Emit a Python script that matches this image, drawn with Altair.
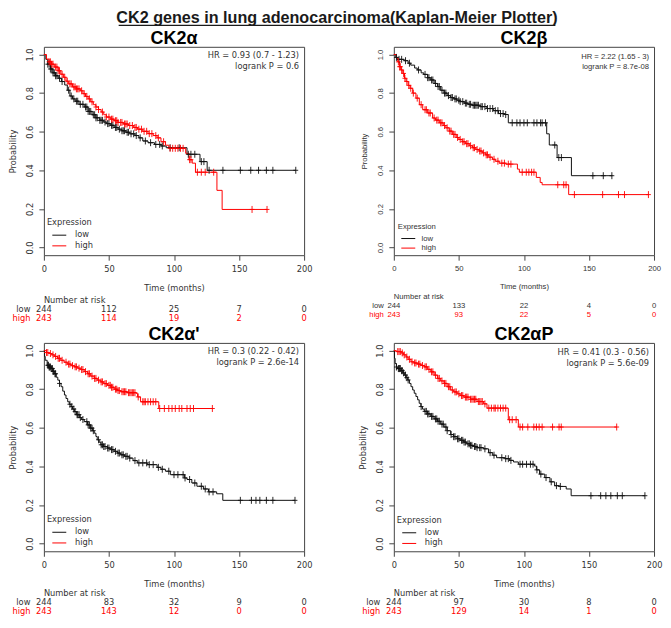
import altair as alt
import pandas as pd

# ---------------- text content ----------------
MAIN_TITLE = "CK2 genes in lung adenocarcinoma(Kaplan-Meier Plotter)"
PANEL_TITLES = ["CK2\u03b1", "CK2\u03b2", "CK2\u03b1'", "CK2\u03b1P"]
HR_LINE1 = ["HR = 0.93 (0.7 - 1.23)", "HR = 2.22 (1.65 - 3)", "HR = 0.3 (0.22 - 0.42)", "HR = 0.41 (0.3 - 0.56)"]
HR_LINE2 = ["logrank P = 0.6", "logrank P = 8.7e-08", "logrank P = 2.6e-14", "logrank P = 5.6e-09"]
GROUPS = ["low", "high"]
X_TICKS = [0, 50, 100, 150, 200]
Y_TICKS = [0.0, 0.2, 0.4, 0.6, 0.8, 1.0]

# ---------------- number at risk ----------------
RISK_TIMES = [0, 50, 100, 150, 200]
RISK_LOW = [[244, 112, 25, 7, 0], [244, 133, 22, 4, 0], [244, 83, 32, 9, 0], [244, 97, 30, 8, 0]]
RISK_HIGH = [[243, 114, 19, 2, 0], [243, 93, 22, 5, 0], [243, 143, 12, 0, 0], [243, 129, 14, 1, 0]]

# ---------------- KM curves (time in months, survival) ----------------
# Panel 1: CK2a
P1_LOW_T = [0, 1.5, 3, 5, 7, 9, 11, 13.5, 16, 18, 20, 22, 24, 27, 31, 34, 37, 40, 43, 46, 48, 51, 54, 57, 60, 63, 66, 70, 73, 76, 80, 85, 90, 94, 110, 120, 125.5, 193.6]
P1_LOW_S = [1.0, 0.975, 0.95, 0.925, 0.905, 0.89, 0.877, 0.86, 0.842, 0.815, 0.785, 0.77, 0.758, 0.742, 0.728, 0.705, 0.688, 0.672, 0.659, 0.65, 0.642, 0.633, 0.622, 0.613, 0.605, 0.597, 0.589, 0.58, 0.568, 0.552, 0.543, 0.534, 0.526, 0.517, 0.483, 0.445, 0.40, 0.40]
P1_LOW_C = [3, 4, 5, 6, 7, 8, 9, 10, 12, 14, 19, 21, 23, 25, 26, 28, 30, 32, 33, 34, 35, 36, 38, 39, 40, 41, 43, 44, 45, 47, 49, 50, 52, 53, 55, 56, 58, 60, 61, 62, 64, 65, 67, 69, 71, 74, 78, 82, 86, 89, 91, 97, 104, 111, 113, 116, 121, 123, 127, 137.6, 151, 159, 165, 171, 176, 193.6]
P1_HIGH_T = [0, 2, 4, 6, 8, 11, 13, 15, 17, 19, 22, 25, 28, 30, 32, 34, 36, 38, 40, 42, 44, 46, 48, 51, 54, 57, 61, 65, 69, 72, 76, 80, 84, 87, 90, 93.5, 96, 109, 111.5, 114, 116.5, 133, 137, 171.5]
P1_HIGH_S = [1.0, 0.976, 0.962, 0.95, 0.935, 0.916, 0.898, 0.882, 0.862, 0.848, 0.832, 0.822, 0.812, 0.797, 0.783, 0.77, 0.755, 0.74, 0.728, 0.715, 0.702, 0.688, 0.676, 0.665, 0.657, 0.648, 0.64, 0.632, 0.622, 0.613, 0.602, 0.59, 0.58, 0.568, 0.548, 0.53, 0.514, 0.488, 0.455, 0.437, 0.39, 0.296, 0.197, 0.197]
P1_HIGH_C = [4, 5, 6, 7, 9, 10, 11, 12, 14, 16, 18, 20, 21, 23, 24, 25, 26, 27, 29, 31, 33, 35, 37, 40, 42, 45, 48, 50, 52, 53, 55, 56, 57, 59, 60, 62, 63, 64, 66, 68, 70, 71, 73, 75, 77, 79, 81, 83, 86, 88, 92, 97, 99, 101, 103, 105, 107, 112, 113, 118, 121, 124, 130.5, 160, 171.5]

# Panel 2: CK2b
P2_LOW_T = [0, 1.5, 3, 8, 11, 13, 16, 18, 21, 23, 26, 28, 31, 33.5, 36, 38.5, 41, 43.5, 46, 48.5, 51, 54, 57, 60, 66.5, 71.5, 76.5, 80.5, 85, 88, 117.5, 119.5, 125.5, 136.5, 168]
P2_LOW_S = [1.0, 0.985, 0.975, 0.968, 0.955, 0.945, 0.93, 0.92, 0.905, 0.897, 0.88, 0.868, 0.85, 0.834, 0.815, 0.8, 0.787, 0.777, 0.77, 0.763, 0.756, 0.748, 0.742, 0.737, 0.73, 0.72, 0.709, 0.694, 0.689, 0.646, 0.589, 0.531, 0.466, 0.372, 0.372]
P2_LOW_C = [2, 4, 6, 9, 12, 19, 24, 26, 27, 29, 30, 32, 34, 35, 37, 39, 40, 42, 44, 45, 47, 48, 50, 51, 53, 55, 56, 58, 59, 61, 62, 63, 64, 65, 67, 68, 70, 72, 74, 76, 78, 80, 82, 84, 86, 91, 94.6, 97, 100, 102.6, 107.7, 110, 112.8, 114, 116.6, 123.7, 126.8, 128.8, 153, 161, 167.6]
P2_HIGH_T = [0, 2, 3, 4.3, 5.6, 6.9, 8.2, 9.4, 11, 12.5, 14.5, 17, 19.6, 22.2, 26, 29.8, 32, 35, 38, 40, 42.5, 45, 48, 50, 52.5, 55, 58, 60.5, 63, 65.6, 68, 70.7, 73, 75.8, 78, 81, 86, 95, 96.5, 109.5, 112.5, 114, 134.4, 196]
P2_HIGH_S = [1.0, 0.98, 0.962, 0.937, 0.92, 0.902, 0.877, 0.86, 0.84, 0.825, 0.8, 0.774, 0.74, 0.714, 0.697, 0.671, 0.66, 0.646, 0.632, 0.62, 0.603, 0.586, 0.57, 0.56, 0.548, 0.538, 0.527, 0.517, 0.508, 0.5, 0.49, 0.48, 0.468, 0.457, 0.447, 0.437, 0.432, 0.406, 0.39, 0.363, 0.337, 0.325, 0.274, 0.274]
P2_HIGH_C = [3.5, 4.5, 5, 6, 7.5, 8.5, 10, 11.5, 13, 15, 18, 21, 24, 25, 27, 28, 31, 33, 34, 36, 37, 39, 41, 43, 44, 46, 47, 49, 51, 53, 54, 56, 57, 59, 61, 62, 64, 66, 67, 69, 71, 72, 74, 77, 80, 83, 85, 88, 90, 98.7, 101.8, 103.8, 105.9, 107.7, 126, 130.6, 132.4, 138.8, 160.5, 172.7, 177.3, 195.7]

# Panel 3: CK2a'
P3_LOW_T = [0, 0.5, 1, 2.5, 4, 5.6, 7, 8, 9.5, 10.7, 12, 13.2, 14.5, 15.8, 17, 18.3, 19.5, 20.9, 22, 23.4, 25, 27.2, 29, 31, 33.5, 36, 37.5, 38.7, 40, 41, 42.5, 43.8, 46, 48.9, 51.5, 54, 56.5, 59, 62, 65.4, 68.5, 71.8, 79.4, 87, 90, 93.4, 97.2, 108, 110, 113.7, 117.6, 122.6, 126.5, 132.8, 137.5, 193]
P3_LOW_S = [1.0, 0.97, 0.95, 0.924, 0.915, 0.907, 0.893, 0.88, 0.862, 0.847, 0.83, 0.813, 0.79, 0.77, 0.752, 0.735, 0.722, 0.71, 0.697, 0.684, 0.668, 0.653, 0.643, 0.632, 0.615, 0.598, 0.585, 0.572, 0.555, 0.538, 0.525, 0.512, 0.503, 0.495, 0.487, 0.478, 0.469, 0.46, 0.452, 0.443, 0.43, 0.418, 0.409, 0.395, 0.385, 0.375, 0.357, 0.34, 0.332, 0.314, 0.297, 0.283, 0.268, 0.258, 0.224, 0.224]
P3_LOW_C = [3, 3.5, 4, 4.5, 5, 6, 6.5, 7, 7.5, 8.5, 9, 12, 20, 21.5, 23, 24, 25.5, 26, 27, 28, 30, 33, 34, 35, 36, 37, 38, 42, 44, 45, 46, 47, 49, 50, 52, 53, 55, 57, 58, 60, 61, 63, 64, 66, 70, 73, 76, 79, 81, 84, 88, 91, 96, 100, 103, 107, 108.5, 112, 116, 121, 124, 127, 130, 151, 159.5, 163, 166, 171, 176, 193]
P3_HIGH_T = [0, 2, 4, 6, 8, 10.5, 13, 15.5, 18, 21, 23.4, 26, 28.5, 31, 33.6, 36, 38.7, 41, 43.8, 46, 48.9, 51.5, 54, 56.5, 59, 64, 71, 72, 74.3, 88.3, 130]
P3_HIGH_S = [1.0, 0.99, 0.985, 0.978, 0.97, 0.96, 0.95, 0.94, 0.93, 0.922, 0.916, 0.909, 0.902, 0.891, 0.88, 0.868, 0.856, 0.847, 0.838, 0.829, 0.82, 0.81, 0.8, 0.793, 0.787, 0.782, 0.778, 0.76, 0.735, 0.70, 0.70]
P3_HIGH_C = [2, 3, 5, 7, 9, 11, 12, 14, 17, 19, 20, 22, 24, 25, 27, 29, 30, 32, 34, 35, 37, 39, 40, 42, 44, 45, 47, 48, 50, 51, 52, 53, 55, 56, 57, 58, 60, 61, 62, 63, 65, 66, 67, 68, 69, 70, 72.5, 76, 77, 78, 80, 82, 84, 86, 89, 92.6, 96, 98.5, 101, 104, 106, 110, 112.5, 115, 129.5]

# Panel 4: CK2aP
P4_LOW_T = [0, 0.5, 1, 2, 3, 5.6, 7, 8.1, 9.5, 10.7, 12, 13.2, 14.5, 15.7, 17, 18.3, 19.5, 20.8, 22, 23.4, 26, 28.4, 31, 33.5, 36, 38.6, 41, 43.7, 46, 48.7, 51, 53.8, 56, 58.9, 61.5, 64, 69, 72.8, 76, 79, 85.5, 89, 92, 95.7, 108, 109.6, 112, 116, 120, 123.6, 127.4, 132.5, 136.3, 193]
P4_LOW_S = [1.0, 0.96, 0.933, 0.915, 0.907, 0.896, 0.885, 0.873, 0.86, 0.848, 0.83, 0.813, 0.796, 0.779, 0.762, 0.745, 0.727, 0.71, 0.697, 0.685, 0.672, 0.659, 0.646, 0.634, 0.619, 0.604, 0.585, 0.565, 0.554, 0.543, 0.535, 0.526, 0.517, 0.509, 0.503, 0.497, 0.491, 0.471, 0.458, 0.445, 0.44, 0.431, 0.423, 0.411, 0.402, 0.382, 0.36, 0.342, 0.32, 0.30, 0.296, 0.283, 0.248, 0.248]
P4_LOW_C = [2, 3.5, 4, 4.5, 5, 6, 6.5, 7.5, 9, 10, 11, 21, 24, 25, 26, 27, 29, 30, 32, 33, 34, 35, 37, 38, 40, 41, 44, 46, 47, 49, 50, 52, 53, 54, 55, 57, 58, 59, 60, 62, 63, 64, 66, 67, 70, 74, 77, 83, 86, 88, 90, 97, 99, 102, 105, 107, 110, 113, 117, 121, 125, 128, 151.5, 159, 163, 166.8, 171.8, 175.6, 193]
P4_HIGH_T = [0, 2, 5.6, 7.5, 9.4, 11, 13.2, 15.5, 18.3, 21, 23.4, 26, 28.4, 31, 33.5, 36, 38.6, 41, 43.7, 46, 48.7, 51, 53.8, 58.9, 64, 69, 71.6, 88, 95.7, 171.3]
P4_HIGH_S = [1.0, 0.995, 0.988, 0.978, 0.967, 0.955, 0.942, 0.936, 0.93, 0.923, 0.916, 0.903, 0.89, 0.873, 0.856, 0.843, 0.83, 0.813, 0.796, 0.786, 0.776, 0.767, 0.759, 0.748, 0.736, 0.724, 0.702, 0.642, 0.604, 0.604]
P4_HIGH_C = [3, 4, 5, 6.5, 8, 10, 12, 14, 16, 17, 19, 20, 22, 24, 25, 27, 29, 30, 32, 34, 35, 37, 39, 40, 42, 43, 45, 47, 48, 50, 52, 53, 55, 56, 57, 59, 60, 61, 62, 63, 65, 66, 67, 68, 70, 73, 75, 77, 78, 80, 82, 84, 86, 89, 91, 94, 97, 99, 103, 107.6, 109.6, 111.7, 114, 122, 127, 128.7, 171.3]

CURVES = [
    (P1_LOW_T, P1_LOW_S, P1_LOW_C, P1_HIGH_T, P1_HIGH_S, P1_HIGH_C),
    (P2_LOW_T, P2_LOW_S, P2_LOW_C, P2_HIGH_T, P2_HIGH_S, P2_HIGH_C),
    (P3_LOW_T, P3_LOW_S, P3_LOW_C, P3_HIGH_T, P3_HIGH_S, P3_HIGH_C),
    (P4_LOW_T, P4_LOW_S, P4_LOW_C, P4_HIGH_T, P4_HIGH_S, P4_HIGH_C),
]

# ---------------- style ----------------
W, H = 261, 209
BLACK, RED = "#111111", "#ff0000"
TXT = "#333333"
PLUS = "M-0.7,0H0.7M0,-1V1"
STYLE = [
    dict(font="DejaVu Sans", fs=8.3, nar=45.5, low=55, high=64, lab=-13.5,
         ly=172, lx=3, so=8.3, lo=11.5, tp=4.5, rp=1.7, hr1=9, hr2=20),
    dict(font="Liberation Sans", fs=7.7, nar=42, low=51, high=60, lab=-10,
         ly=177, lx=4, so=6.5, lo=9.2, tp=3.6, rp=1.6, hr1=10.3, hr2=20.7),
    dict(font="DejaVu Sans", fs=8.3, nar=42.5, low=52, high=61, lab=-13.5,
         ly=173, lx=3, so=8.3, lo=11.5, tp=4.5, rp=1.7, hr1=9.3, hr2=20.3),
    dict(font="DejaVu Sans", fs=8.3, nar=42.5, low=52, high=61, lab=-13.5,
         ly=173.5, lx=3, so=8.3, lo=11.5, tp=4.5, rp=1.7, hr1=10, hr2=20.8),
]


def surv_at(t, T, S):
    v = S[0]
    for ti, si in zip(T, S):
        if ti <= t:
            v = si
        else:
            break
    return v


def one():
    return pd.DataFrame({"k": [0]})


def label(txt, x, y, font, fs, color, align="left", **kw):
    return alt.Chart(one()).mark_text(
        align=align, baseline="middle", font=font, fontSize=fs, color=color, **kw
    ).encode(x=alt.value(x), y=alt.value(y), text=alt.value(txt))


def panel(i):
    lt, ls, lc, ht, hs, hc = CURVES[i]
    st = STYLE[i]
    font, fs = st["font"], st["fs"]

    curves = pd.DataFrame(
        {"t": lt + ht, "s": ls + hs, "g": ["low"] * len(lt) + ["high"] * len(ht)}
    )
    cens = pd.DataFrame(
        {
            "t": lc + hc,
            "s": [surv_at(c, lt, ls) for c in lc] + [surv_at(c, ht, hs) for c in hc],
            "g": ["low"] * len(lc) + ["high"] * len(hc),
        }
    )

    xs = alt.Scale(domain=[0, 200], nice=False, zero=False)
    ys = alt.Scale(domain=[-0.04, 1.04], nice=False, zero=False)
    xaxis = alt.Axis(
        values=X_TICKS, title="Time (months)", grid=False, domain=False,
        tickSize=5, tickColor="#444", labelFont=font, labelFontSize=fs,
        labelColor=TXT, labelPadding=4, titleFont=font, titleFontSize=fs,
        titleFontWeight="normal", titleColor=TXT, titlePadding=11,
        labelFlush=False,
    )
    yaxis = alt.Axis(
        values=Y_TICKS, format=".1f", title="Probability", grid=False,
        domain=False, tickSize=5, tickColor="#444", labelFont=font,
        labelFontSize=fs, labelColor=TXT, labelPadding=4, labelAngle=270,
        labelAlign="center", labelBaseline="bottom", titleFont=font,
        titleFontSize=fs, titleFontWeight="normal", titleColor=TXT,
        titlePadding=8, labelFlush=False,
    )
    X = alt.X("t:Q", scale=xs, axis=xaxis)
    Y = alt.Y("s:Q", scale=ys, axis=yaxis)
    cscale = alt.Scale(domain=GROUPS, range=[BLACK, RED])

    lines = alt.Chart(curves).mark_line(interpolate="step-after", strokeWidth=1).encode(
        x=X, y=Y,
        color=alt.Color(
            "g:N", scale=cscale,
            legend=alt.Legend(
                title="Expression", orient="none", legendX=st["lx"], legendY=st["ly"],
                padding=0, symbolType="M-2,0H2", symbolSize=49, symbolStrokeWidth=1,
                symbolOffset=st["so"], labelOffset=st["lo"], rowPadding=st["rp"],
                titlePadding=st["tp"], labelFont=font, labelFontSize=fs,
                labelColor=TXT, titleFont=font, titleFontSize=fs,
                titleFontWeight="normal", titleColor=TXT,
            ),
        ),
    )
    marks = alt.Chart(cens).mark_point(
        shape=PLUS, size=49, filled=False, strokeWidth=0.9, opacity=1
    ).encode(x=X, y=Y, stroke=alt.Stroke("g:N", scale=cscale, legend=None))

    hr1 = label(HR_LINE1[i], W - 5, st["hr1"], font, fs, TXT, align="right")
    hr2 = label(HR_LINE2[i], W - 5, st["hr2"], font, fs, TXT, align="right")

    ptitle = alt.Chart(one()).mark_text(
        align="center", baseline="alphabetic", font="Liberation Sans",
        fontSize=18, fontWeight="bold", color="black",
    ).encode(x=alt.value(W / 2), y=alt.value(-3), text=alt.value(PANEL_TITLES[i]))

    nar = label("Number at risk", 0, H + st["nar"], font, fs, TXT)

    risk_low = alt.Chart(pd.DataFrame({"t": RISK_TIMES, "n": RISK_LOW[i]})).mark_text(
        align="center", baseline="middle", font=font, fontSize=fs, color=TXT
    ).encode(x=X, y=alt.value(H + st["low"]), text="n:Q")
    risk_high = alt.Chart(pd.DataFrame({"t": RISK_TIMES, "n": RISK_HIGH[i]})).mark_text(
        align="center", baseline="middle", font=font, fontSize=fs, color=RED
    ).encode(x=X, y=alt.value(H + st["high"]), text="n:Q")
    lab_low = label("low", st["lab"], H + st["low"], font, fs, TXT, align="right")
    lab_high = label("high", st["lab"], H + st["high"], font, fs, RED, align="right")

    layers = [lines, marks, hr1, hr2, ptitle, nar, risk_low, risk_high, lab_low, lab_high]

    if i == 0:
        # main figure title (underlined), centred over the whole figure
        cx = 294
        mt = alt.Chart(one()).mark_text(
            align="center", baseline="alphabetic", font="Liberation Sans",
            fontSize=16.2, fontWeight="bold", color="#1a1a1a",
        ).encode(x=alt.value(cx), y=alt.value(-24), text=alt.value(MAIN_TITLE))
        ul = alt.Chart(one()).mark_rule(color="#1a1a1a", strokeWidth=1.5).encode(
            x=alt.value(cx - 219), x2=alt.value(cx + 219), y=alt.value(-21.5)
        )
        layers += [mt, ul]

    return alt.layer(*layers).properties(width=W, height=H)


chart = (
    alt.concat(
        panel(0), panel(1), panel(2), panel(3),
        columns=2, spacing={"row": 88, "column": 90}, bounds="flush",
    )
    .resolve_scale(color="independent", stroke="independent")
    .properties(padding={"left": 0, "top": 0, "right": 0, "bottom": 0}, background="white")
    .configure_view(stroke="#444", strokeWidth=1)
)

chart.save("out.html", embed_options={"renderer": "svg", "actions": False})
